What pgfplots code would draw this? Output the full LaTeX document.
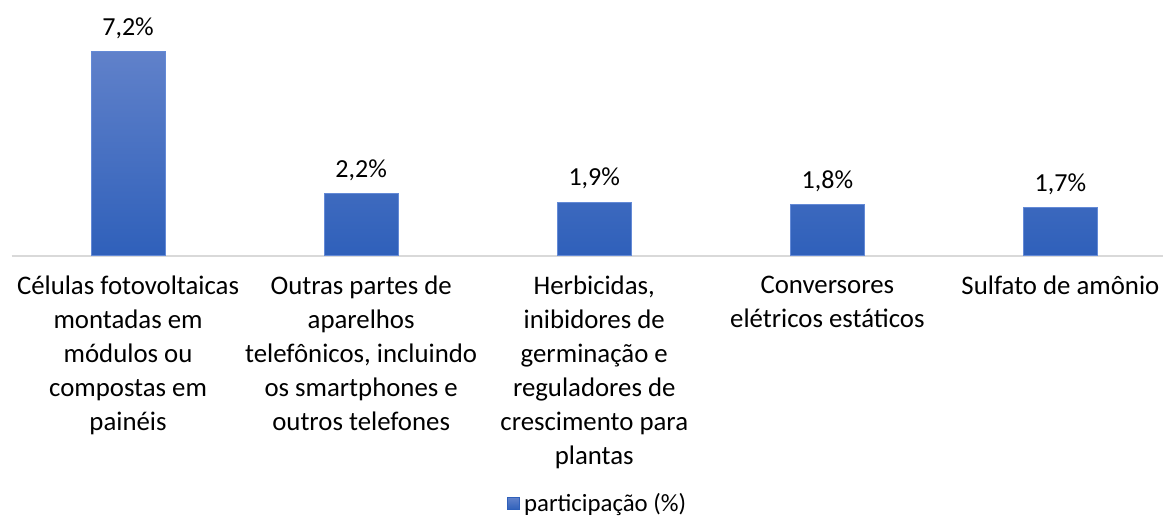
\documentclass[border=0pt]{standalone}
\usepackage{fontspec}
\setmainfont{Carlito}
\usepackage{pgfplots}
\pgfplotsset{compat=1.18}
\definecolor{bartop}{RGB}{96,129,202}
\definecolor{barbot}{RGB}{47,96,186}
\definecolor{baredge}{RGB}{100,138,214}
\definecolor{axisgray}{RGB}{217,217,217}
\begin{document}
\begin{tikzpicture}
\begin{axis}[
    scale only axis,
    width=575.75pt, height=113.33pt,
    xmin=-0.5, xmax=4.44,
    ymin=0, ymax=8,
    clip=false,
    ybar, bar width=37pt,
    axis x line=bottom,
    axis y line=none,
    axis line style={draw=axisgray, line width=1pt, -},
    xtick={0,1,2,3,4},
    major tick length=0pt,
    xticklabels={
      {Células fotovoltaicas\\montadas em\\módulos ou\\compostas em\\painéis},
      {Outras partes de\\aparelhos\\telefônicos, incluindo\\os smartphones e\\outros telefones},
      {Herbicidas,\\inibidores de\\germinação e\\reguladores de\\crescimento para\\plantas},
      {Conversores\\elétricos estáticos},
      {Sulfato de amônio}},
    xticklabel style={align=center, anchor=north, inner sep=0pt,
      font=\fontsize{13.4}{17}\selectfont, yshift=-10pt},
    point meta=explicit symbolic,
    nodes near coords,
    every node near coord/.append style={font=\fontsize{13}{15}\selectfont, anchor=south, yshift=3pt},
    legend style={at={(rel axis cs:0.51,-1.095)}, anchor=center, draw=none,
      font=\fontsize{12.4}{14}\selectfont, inner sep=0pt},
    legend image code/.code={\fill[barbot] (0cm,-0.1cm) rectangle (0.21cm,0.11cm);},
]
\addplot[top color=bartop, bottom color=barbot, draw=baredge, line width=0.4pt]
  coordinates {(0,7.2) [7,2\%] (1,2.2) [2,2\%] (2,1.9) [1,9\%] (3,1.8) [1,8\%] (4,1.7) [1,7\%]};
\addlegendentry{participação (\%)}
\coordinate (bbl) at (rel axis cs:-0.00999,-1.156);
\coordinate (btr) at (rel axis cs:1,1.129);
\end{axis}
\pgfresetboundingbox
\path[use as bounding box] (bbl) rectangle (btr);
\end{tikzpicture}
\end{document}
